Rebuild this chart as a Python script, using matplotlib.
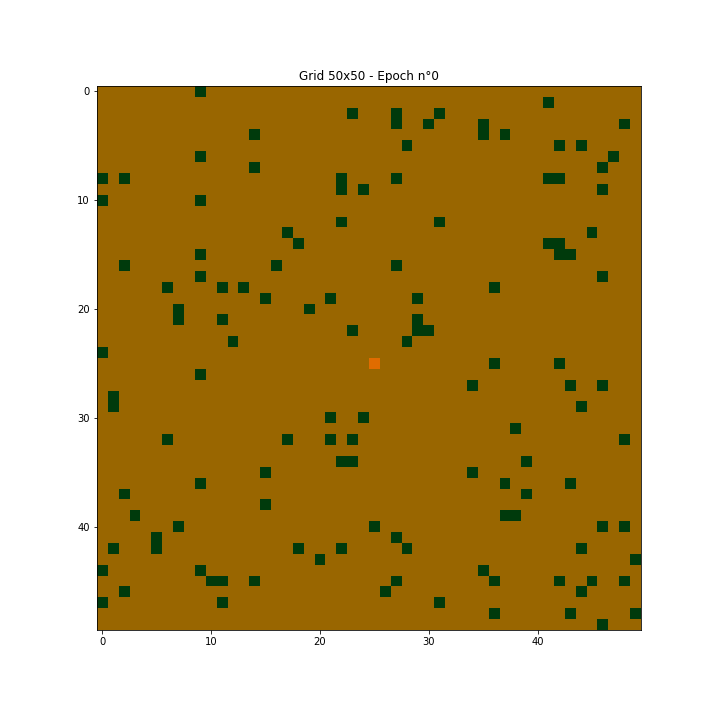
import numpy as np
import matplotlib
matplotlib.use("Agg")
import matplotlib.pyplot as plt
from matplotlib.colors import ListedColormap

grid_size = 50
epoch = 0

# Tree cells (row, col)
tree_rows = [0, 1, 2, 2, 2, 3, 3, 3, 3, 4, 4, 4, 5, 5, 5, 6, 6, 7, 7,
             8, 8, 8, 8, 8, 8, 9, 9, 9, 10, 10, 12, 12, 13, 13, 14, 14, 14,
             15, 15, 15, 16, 16, 16, 17, 17, 18, 18, 18, 18, 19, 19, 19,
             20, 20, 21, 21, 21, 22, 22, 22, 23, 23, 24, 25, 25, 26,
             27, 27, 27, 28, 29, 29, 30, 30, 31, 32, 32, 32, 32, 32,
             34, 34, 34, 35, 35, 36, 36, 36, 37, 37, 38, 39, 39, 39,
             40, 40, 40, 40, 41, 41, 42, 42, 42, 42, 42, 42, 43, 43,
             44, 44, 44, 45, 45, 45, 45, 45, 45, 45, 45, 46, 46, 46,
             47, 47, 47, 48, 48, 48, 49]
tree_cols = [9, 41, 23, 27, 31, 27, 30, 35, 48, 14, 35, 37, 28, 42, 44, 9, 47, 14, 46,
             0, 2, 22, 27, 41, 42, 22, 24, 46, 0, 9, 22, 31, 17, 45, 18, 41, 42,
             9, 42, 43, 2, 16, 27, 9, 46, 6, 11, 13, 36, 15, 21, 29,
             7, 19, 7, 11, 29, 23, 29, 30, 12, 28, 0, 36, 42, 9,
             34, 43, 46, 1, 1, 44, 21, 24, 38, 6, 17, 21, 23, 48,
             22, 23, 39, 15, 34, 9, 37, 43, 2, 39, 15, 3, 37, 38,
             7, 25, 46, 48, 5, 27, 1, 5, 18, 22, 28, 44, 20, 49,
             0, 9, 35, 10, 11, 14, 27, 36, 42, 45, 48, 2, 26, 44,
             0, 11, 31, 36, 43, 49, 46]

# Burning cells (row, col)
fire_rows = [25]
fire_cols = [25]

state_colors = ["#996600", "#003a0c", "#e06c00"]  # ground, tree, fire

grid = np.zeros((grid_size, grid_size), dtype=int)
grid[tree_rows, tree_cols] = 1
grid[fire_rows, fire_cols] = 2

fig = plt.figure(figsize=(10, 10), dpi=72)
ax = fig.add_axes([97 / 720, 90 / 720, 544 / 720, 544 / 720])
ax.imshow(grid, cmap=ListedColormap(state_colors), vmin=0, vmax=2,
          interpolation="nearest")
ax.set_title(f"Grid {grid_size}x{grid_size} - Epoch n°{epoch}")
fig.savefig("out.png", dpi=72)
